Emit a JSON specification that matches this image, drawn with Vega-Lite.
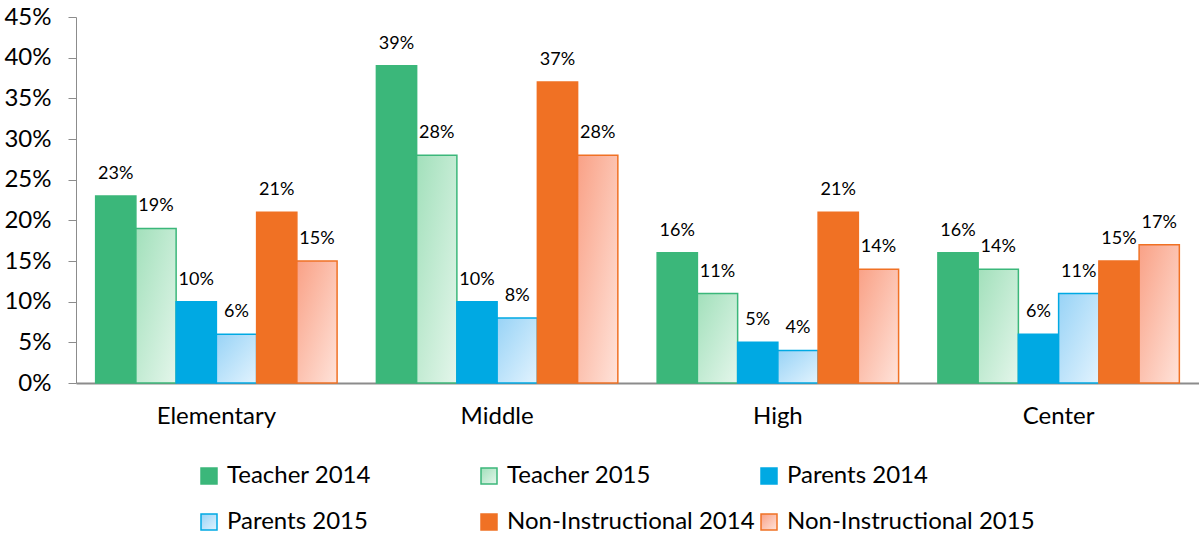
{
  "$schema": "https://vega.github.io/schema/vega-lite/v6.json",
  "autosize": "none",
  "width": 1123,
  "height": 366,
  "padding": {"left": 76, "top": 17, "right": 0, "bottom": 152},
  "background": "white",
  "config": {"view": {"stroke": null}, "font": "Lato", "axis": {"labelFont": "Lato"}, "legend": {"labelFont": "Lato"}},
  "data": {
    "values": [
      {"school": "Elementary", "series": "Teacher 2014", "value": 0.23},
      {"school": "Elementary", "series": "Teacher 2015", "value": 0.19},
      {"school": "Elementary", "series": "Parents 2014", "value": 0.10},
      {"school": "Elementary", "series": "Parents 2015", "value": 0.06},
      {"school": "Elementary", "series": "Non-Instructional 2014", "value": 0.21},
      {"school": "Elementary", "series": "Non-Instructional 2015", "value": 0.15},
      {"school": "Middle", "series": "Teacher 2014", "value": 0.39},
      {"school": "Middle", "series": "Teacher 2015", "value": 0.28},
      {"school": "Middle", "series": "Parents 2014", "value": 0.10},
      {"school": "Middle", "series": "Parents 2015", "value": 0.08},
      {"school": "Middle", "series": "Non-Instructional 2014", "value": 0.37},
      {"school": "Middle", "series": "Non-Instructional 2015", "value": 0.28},
      {"school": "High", "series": "Teacher 2014", "value": 0.16},
      {"school": "High", "series": "Teacher 2015", "value": 0.11},
      {"school": "High", "series": "Parents 2014", "value": 0.05},
      {"school": "High", "series": "Parents 2015", "value": 0.04},
      {"school": "High", "series": "Non-Instructional 2014", "value": 0.21},
      {"school": "High", "series": "Non-Instructional 2015", "value": 0.14},
      {"school": "Center", "series": "Teacher 2014", "value": 0.16},
      {"school": "Center", "series": "Teacher 2015", "value": 0.14},
      {"school": "Center", "series": "Parents 2014", "value": 0.06},
      {"school": "Center", "series": "Parents 2015", "value": 0.11},
      {"school": "Center", "series": "Non-Instructional 2014", "value": 0.15},
      {"school": "Center", "series": "Non-Instructional 2015", "value": 0.17}
    ]
  },
  "encoding": {
    "x": {
      "field": "school", "type": "nominal",
      "sort": ["Elementary", "Middle", "High", "Center"],
      "scale": {"paddingInner": 0.14, "paddingOuter": 0.07},
      "axis": {"title": null, "labelAngle": 0, "labelFontSize": 24, "labelPadding": 21, "ticks": false, "domainColor": "#8c8c8c", "domainWidth": 2, "labelColor": "#000"}
    },
    "xOffset": {
      "field": "series", "type": "nominal",
      "sort": ["Teacher 2014", "Teacher 2015", "Parents 2014", "Parents 2015", "Non-Instructional 2014", "Non-Instructional 2015"]
    },
    "y": {
      "field": "value", "type": "quantitative",
      "scale": {"domain": [0, 0.45], "nice": false},
      "axis": {"title": null, "format": ".0%", "values": [0, 0.05, 0.1, 0.15, 0.2, 0.25, 0.3, 0.35, 0.4, 0.45], "grid": false, "labelFontSize": 24, "tickSize": 8, "domainColor": "#8c8c8c", "tickColor": "#8c8c8c", "labelPadding": 17, "labelColor": "#000"}
    }
  },
  "layer": [
    {
      "mark": {"type": "bar", "strokeWidth": 1.5},
      "encoding": {
        "fill": {
          "field": "series", "type": "nominal",
          "scale": {
            "domain": ["Teacher 2014", "Teacher 2015", "Parents 2014", "Parents 2015", "Non-Instructional 2014", "Non-Instructional 2015"],
            "range": [
              "#3bb77a",
              {"expr": "{gradient: 'linear', x1: 0, y1: 0, x2: 1, y2: 1, stops: [{offset: 0, color: '#a2e0bb'}, {offset: 1, color: '#e4f6eb'}]}"},
              "#00a9e3",
              {"expr": "{gradient: 'linear', x1: 0, y1: 0, x2: 1, y2: 1, stops: [{offset: 0, color: '#98d3f6'}, {offset: 1, color: '#e2f3fe'}]}"},
              "#f07124",
              {"expr": "{gradient: 'linear', x1: 0, y1: 0, x2: 1, y2: 1, stops: [{offset: 0, color: '#f9a186'}, {offset: 1, color: '#ffe3da'}]}"}
            ]
          },
          "legend": {
            "title": null, "orient": "none", "legendX": 121, "legendY": 447,
            "direction": "horizontal",
            "columns": 3, "gridAlign": "all", "symbolType": "square", "symbolSize": 256,
            "symbolStrokeWidth": 1.5, "labelFontSize": 24, "labelColor": "#000", "labelOffset": 6,
            "rowPadding": 22, "columnPadding": 2, "labelLimit": 400
          }
        },
        "stroke": {
          "field": "series", "type": "nominal",
          "scale": {
            "domain": ["Teacher 2014", "Teacher 2015", "Parents 2014", "Parents 2015", "Non-Instructional 2014", "Non-Instructional 2015"],
            "range": ["#3bb77a", "#3bb77a", "#00a9e3", "#00a9e3", "#f07124", "#f07124"]
          },
          "legend": null
        }
      }
    },
    {
      "mark": {"type": "text", "baseline": "bottom", "dy": -13, "fontSize": 18, "color": "#000"},
      "encoding": {"text": {"field": "value", "type": "quantitative", "format": ".0%"}}
    }
  ]
}
